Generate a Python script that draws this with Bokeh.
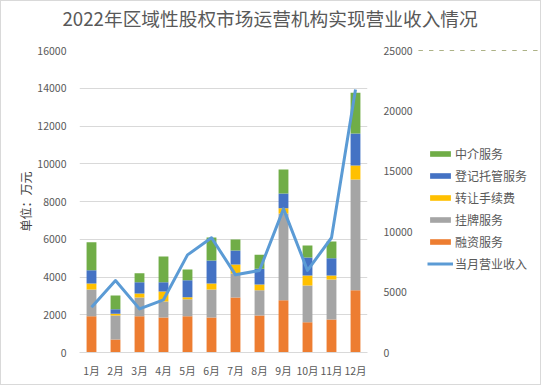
from bokeh.plotting import figure
from bokeh.layouts import row, column
from bokeh.models import (Range1d, LinearAxis, SingleIntervalTicker, Legend, LegendItem,
                          FactorRange, ColumnDataSource)
from bokeh.embed import file_html
from bokeh.resources import INLINE

months = ["1月", "2月", "3月", "4月", "5月", "6月", "7月", "8月", "9月", "10月", "11月", "12月"]
rongzi = [1925, 689, 1925, 1854, 1925, 1854, 2914, 1960, 2773, 1607, 1748, 3302]      # 融资服务
guapai = [1413, 1271, 989, 848, 901, 1484, 1271, 1342, 4592, 1943, 2120, 5864]       # 挂牌服务
zhuanrang = [318, 89, 212, 530, 106, 318, 477, 301, 282, 530, 212, 741]              # 转让手续费
dengji = [706, 247, 600, 494, 900, 1218, 742, 830, 777, 953, 918, 1696]              # 登记托管服务
zhongjie = [1484, 724, 477, 1360, 565, 1219, 583, 741, 1271, 636, 883, 2154]         # 中介服务
monthly_total = [3750, 5960, 3610, 4360, 8080, 9500, 6430, 6790, 11890, 6790, 9500, 21770]  # 当月营业收入

series_names = ["融资服务", "挂牌服务", "转让手续费", "登记托管服务", "中介服务"]
line_name = "当月营业收入"
title_text = "2022年区域性股权市场运营机构实现营业收入情况"
colors = ["#ED7D31", "#A5A5A5", "#FFC000", "#4472C4", "#70AD47"]
line_color = "#5B9BD5"

FONT = "Noto Sans CJK SC"
GRAY = "#595959"

src = ColumnDataSource(dict(month=months, rz=rongzi, gp=guapai, zr=zhuanrang,
                            dj=dengji, zj=zhongjie, total=monthly_total))
cols = ["rz", "gp", "zr", "dj", "zj"]

# ---------------- title strip ----------------
tfig = figure(width=539, height=41, x_axis_location=None, y_axis_location=None,
              output_backend="svg", toolbar_location=None, min_border=0)
tfig.grid.visible = False
tfig.outline_line_color = None
tfig.background_fill_color = "white"
tfig.border_fill_color = "white"
tfig.title.text = title_text
tfig.title.text_font = FONT
tfig.title.text_font_size = "18.7px"
tfig.title.text_font_style = "normal"
tfig.title.text_color = GRAY
tfig.title.align = "left"
tfig.title.offset = 61
tfig.title.standoff = 0

# ---------------- main chart ----------------
p = figure(width=414, height=342, x_range=FactorRange(*months, range_padding=0),
           y_range=Range1d(0, 16000), output_backend="svg", toolbar_location=None,
           min_border_left=78, min_border_right=45, min_border_top=8, min_border_bottom=32)
p.outline_line_color = None
p.background_fill_color = "white"
p.border_fill_color = "white"

p.vbar_stack(cols, x="month", width=0.41, color=colors, line_color=None, source=src)

p.extra_y_ranges = {"right": Range1d(0, 25000)}
p.line(x="month", y="total", source=src, y_range_name="right", line_color=line_color,
       line_width=3, line_join="round")

ya = p.yaxis[0]
ya.ticker = SingleIntervalTicker(interval=2000)
ya.axis_line_color = None
ya.major_tick_line_color = None
ya.minor_tick_line_color = None
ya.major_label_text_font = FONT
ya.major_label_text_font_size = "10.5px"
ya.major_label_text_color = GRAY
ya.major_label_standoff = 7
ya.axis_label = "单位：万元"
ya.axis_label_text_font = FONT
ya.axis_label_text_font_size = "12px"
ya.axis_label_text_font_style = "normal"
ya.axis_label_text_color = "#404040"
ya.axis_label_standoff = 0

ra = LinearAxis(y_range_name="right", ticker=SingleIntervalTicker(interval=5000))
ra.axis_line_color = None
ra.major_tick_line_color = None
ra.minor_tick_line_color = None
ra.major_label_text_font = FONT
ra.major_label_text_font_size = "10.5px"
ra.major_label_text_color = GRAY
ra.major_label_standoff = 10
p.add_layout(ra, "right")

xa = p.xaxis[0]
xa.axis_line_color = "#D9D9D9"
xa.major_tick_line_color = None
xa.minor_tick_line_color = None
xa.major_label_text_font = FONT
xa.major_label_text_font_size = "10.5px"
xa.major_label_text_color = GRAY
xa.major_label_standoff = 4

p.xgrid.grid_line_color = None
p.ygrid.grid_line_color = "#D9D9D9"
p.ygrid.ticker = SingleIntervalTicker(interval=2000)

# ---------------- legend panel ----------------
# same series drawn outside the visible range, only so that the legend has glyphs to show
lg = figure(width=125, height=342, x_range=FactorRange(*months), y_range=Range1d(-2, -1),
            output_backend="svg", toolbar_location=None, min_border=0)
lg.axis.visible = False
lg.grid.visible = False
lg.outline_line_color = None
lg.title.visible = False
lg.background_fill_color = "white"
lg.border_fill_color = "white"

lbars = lg.vbar_stack(cols, x="month", width=0.41, color=colors, line_color=None, source=src)
lline = lg.line(x="month", y="total", source=src, line_color=line_color, line_width=3)

items = [LegendItem(label=series_names[i], renderers=[lbars[i]]) for i in [4, 3, 2, 1, 0]]
items.append(LegendItem(label=line_name, renderers=[lline]))

legend = Legend(items=items, orientation="vertical", location=(12, 80),
                label_text_font=FONT, label_text_font_size="12px", label_text_color=GRAY,
                glyph_width=26, glyph_height=7, label_height=14, spacing=5,
                border_line_color=None, background_fill_alpha=0, margin=0, padding=0,
                label_standoff=2)
lg.add_layout(legend, "center")

layout = column(tfig, row(p, lg, spacing=0), spacing=0)
layout.styles = {"border": "1px solid #D9D9D9"}

open("out.html", "w").write(file_html(layout, INLINE))
